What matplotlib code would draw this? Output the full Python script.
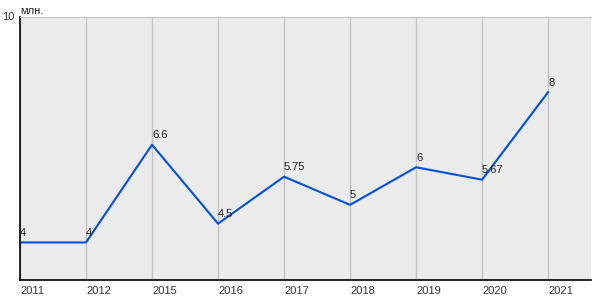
import matplotlib.pyplot as plt

years = ["2011", "2012", "2015", "2016", "2017", "2018", "2019", "2020", "2021"]
values = [4, 4, 6.6, 4.5, 5.75, 5, 6, 5.67, 8]
labels = ["4", "4", "6.6", "4.5", "5.75", "5", "6", "5.67", "8"]

plt.rcParams["font.family"] = ["Liberation Sans", "DejaVu Sans"]
plt.rcParams["font.size"] = 8

fig = plt.figure(figsize=(6, 3), dpi=100)
ax = fig.add_axes([20 / 600, 20 / 300, 571 / 600, 263 / 300])
ax.set_facecolor("#ebebeb")

x = list(range(len(years)))
ax.plot(x, values, color="#0050e0", lw=1.5)
for xi, v, t in zip(x, values, labels):
    ax.text(xi, v + 0.12, t, ha="left", va="bottom", color="#222222")

ax.set_xlim(0, 8.65)
ax.set_ylim(3, 10)
ax.set_xticks(x)
ax.set_xticklabels(years, ha="left", color="#333333")
ax.set_yticks([10])
ax.set_yticklabels(["10"], va="center", color="#333333")
ax.tick_params(length=0, pad=4)
ax.grid(axis="x", color="#c4c4c4", lw=1)
ax.set_axisbelow(True)

ax.spines["right"].set_visible(False)
ax.spines["top"].set_color("#c4c4c4")
ax.spines["left"].set_color("black")
ax.spines["bottom"].set_color("black")
ax.spines["left"].set_linewidth(1.2)
ax.spines["bottom"].set_linewidth(1.2)

ax.text(0, 1.005, "млн.", transform=ax.transAxes, ha="left", va="bottom", color="#222222")

fig.savefig("out.png", dpi=100)
